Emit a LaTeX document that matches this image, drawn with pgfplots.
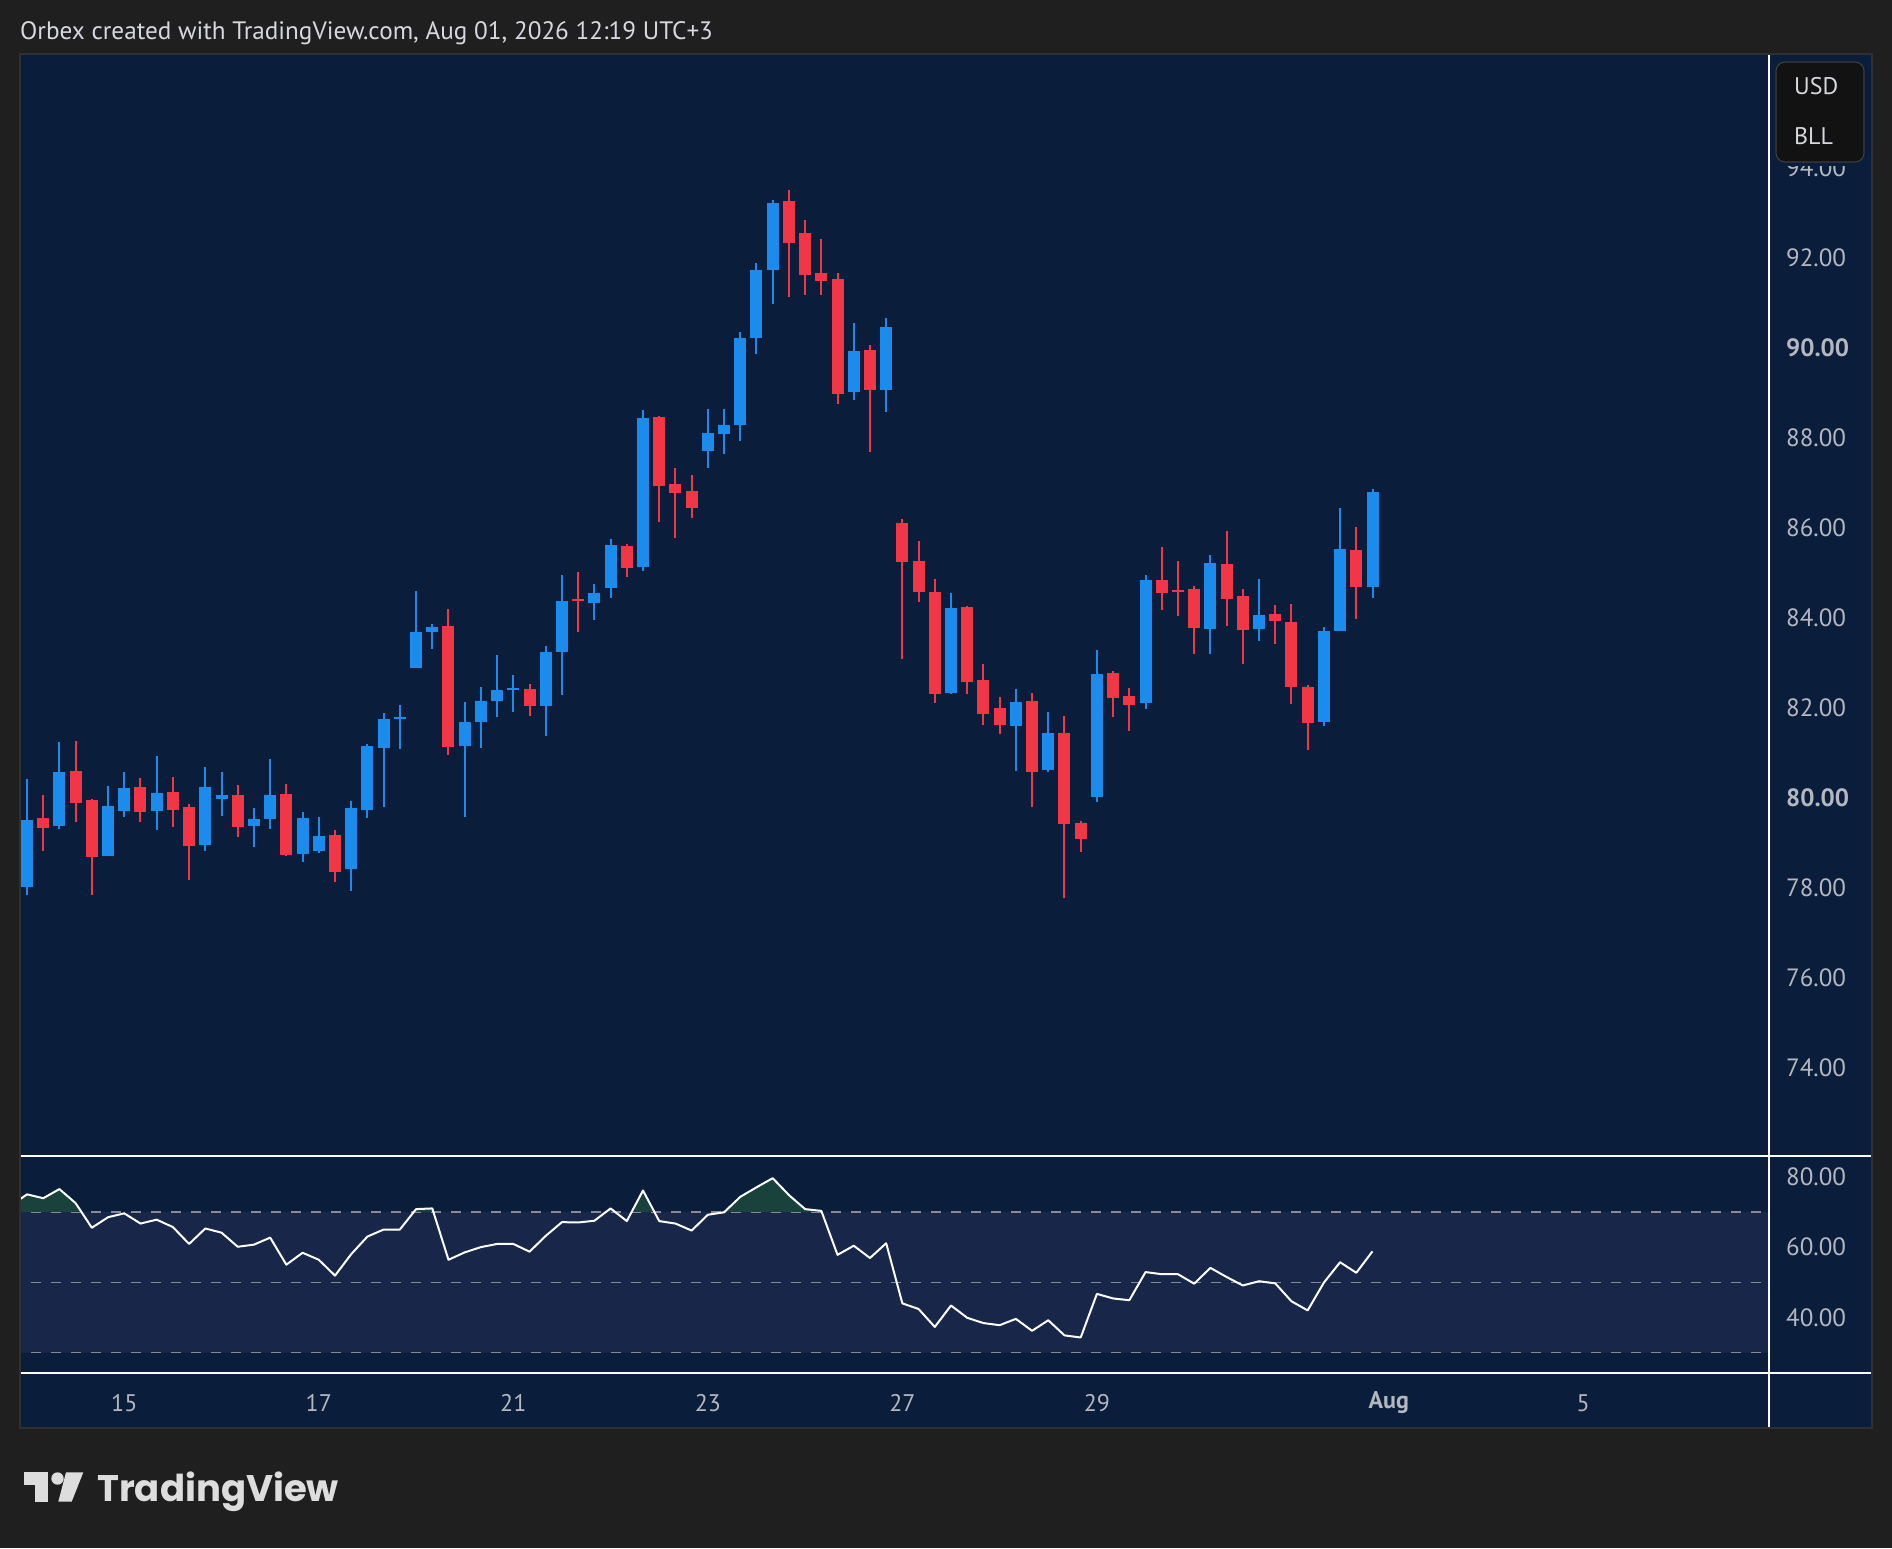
\documentclass[border=0pt]{standalone}
\usepackage{fontspec}
\setmainfont{PT Sans}
\newfontfamily\tvfont{Poppins}
\usepackage{pgfplots}
\usepackage{pgfplotstable}
\pgfplotsset{compat=1.18}

\definecolor{bgdark}{RGB}{31,31,31}
\definecolor{navy}{RGB}{10,30,59}
\definecolor{band}{RGB}{23,38,73}
\definecolor{upblue}{RGB}{28,140,236}
\definecolor{dnred}{RGB}{242,54,69}
\definecolor{labelgray}{RGB}{180,183,192}
\definecolor{titlegray}{RGB}{214,216,222}
\definecolor{dashgray}{RGB}{135,138,148}
\definecolor{panelborder}{RGB}{48,48,48}
\definecolor{rsigreen}{RGB}{26,66,60}
\definecolor{boxfill}{RGB}{18,18,18}
\definecolor{boxborder}{RGB}{60,60,60}
\definecolor{logogray}{RGB}{221,221,221}

\pgfplotstableread{
i o h l c
0 78.02 80.41 77.83 79.50
2 79.37 81.24 79.30 80.57
5 78.70 80.26 78.70 79.81
6 79.70 80.57 79.57 80.21
8 79.70 80.93 79.28 80.10
11 78.94 80.68 78.81 80.24
12 79.97 80.57 79.59 80.06
14 79.37 79.77 78.90 79.52
15 79.52 80.86 79.30 80.06
17 78.74 79.68 78.57 79.55
18 78.81 79.57 78.77 79.15
20 78.41 79.92 77.92 79.77
21 79.72 81.19 79.55 81.15
22 81.10 81.88 79.79 81.75
23 81.75 82.06 81.08 81.79
24 82.88 84.60 82.88 83.68
25 83.68 83.86 83.30 83.79
27 81.15 82.13 79.57 81.68
28 81.68 82.46 81.10 82.15
29 82.15 83.17 81.79 82.39
30 82.39 82.73 81.90 82.44
32 82.04 83.37 81.37 83.24
33 83.24 84.95 82.28 84.37
35 84.33 84.75 83.95 84.55
36 84.66 85.75 84.44 85.62
38 85.13 88.62 85.04 88.44
42 87.71 88.65 87.33 88.11
43 88.09 88.65 87.64 88.29
44 88.29 90.36 87.93 90.22
45 90.22 91.89 89.87 91.74
46 91.74 93.29 90.98 93.23
51 89.02 90.56 88.84 89.93
53 89.07 90.67 88.58 90.47
57 82.32 84.55 82.30 84.22
61 81.59 82.42 80.59 82.13
63 80.61 81.90 80.57 81.44
66 80.01 83.28 79.90 82.75
69 82.10 84.95 81.97 84.84
73 83.75 85.40 83.19 85.22
76 83.75 84.86 83.48 84.06
80 81.68 83.79 81.59 83.71
81 83.71 86.44 83.71 85.53
83 84.68 86.87 84.44 86.80
}\upcandles

\pgfplotstableread{
i o h l c
1 79.55 80.06 78.82 79.33
3 80.59 81.26 79.46 79.89
4 79.95 79.98 77.83 78.69
7 80.24 80.44 79.46 79.68
9 80.12 80.46 79.35 79.72
10 79.79 79.86 78.17 78.92
13 80.06 80.28 79.12 79.35
16 80.08 80.30 78.70 78.72
19 79.17 79.28 78.12 78.34
26 83.82 84.20 80.95 81.13
31 82.42 82.53 81.82 82.04
34 84.42 85.02 83.68 84.37
37 85.60 85.64 84.91 85.11
39 88.47 88.50 86.13 86.93
40 86.97 87.33 85.77 86.78
41 86.82 87.18 86.22 86.44
47 93.27 93.52 91.14 92.34
48 92.56 92.85 91.18 91.63
49 91.67 92.43 91.18 91.49
50 91.54 91.67 88.75 88.98
52 89.96 90.07 87.69 89.07
54 86.11 86.20 83.08 85.24
55 85.26 85.71 84.35 84.57
56 84.57 84.86 82.10 82.30
58 84.24 84.26 82.30 82.57
59 82.62 82.97 81.61 81.86
60 81.99 82.24 81.41 81.61
62 82.15 82.33 79.79 80.57
64 81.44 81.81 77.77 79.41
65 79.43 79.48 78.79 79.08
67 82.77 82.82 81.79 82.22
68 82.26 82.44 81.48 82.06
70 84.84 85.57 84.17 84.55
71 84.62 85.26 84.04 84.57
72 84.64 84.71 83.19 83.77
74 85.20 85.93 83.82 84.42
75 84.49 84.64 82.97 83.73
77 84.08 84.28 83.42 83.93
78 83.90 84.31 82.08 82.46
79 82.46 82.50 81.06 81.66
82 85.51 86.02 83.97 84.68
}\dncandles

\pgfplotstableread{
i r
-1 71.8
0 75.0
1 73.9
2 76.5
3 72.5
4 65.5
5 68.5
6 69.6
7 66.7
8 67.8
9 65.7
10 60.9
11 65.3
12 64.1
13 60.1
14 60.7
15 62.7
16 55.0
17 58.4
18 56.4
19 51.9
20 58.0
21 63.0
22 65.0
23 65.0
24 70.8
25 71.0
26 56.4
27 58.5
28 60.0
29 60.9
30 60.9
31 58.7
32 63.2
33 67.1
34 67.0
35 67.5
36 71.0
37 67.4
38 76.1
39 67.4
40 66.7
41 64.7
42 69.2
43 69.9
44 74.3
45 77.0
46 79.6
47 74.8
48 70.8
49 70.3
50 57.8
51 60.4
52 56.9
53 61.1
54 44.0
55 42.4
56 37.3
57 43.4
58 39.9
59 38.4
60 37.8
61 39.6
62 36.2
63 39.2
64 34.9
65 34.3
66 46.7
67 45.4
68 44.9
69 52.9
70 52.3
71 52.3
72 49.6
73 54.1
74 51.5
75 49.1
76 50.3
77 49.7
78 44.6
79 42.0
80 49.9
81 55.7
82 52.7
83 58.8
}\rsitable

\begin{document}
\begin{tikzpicture}[x=1pt,y=1pt]
\useasboundingbox (0,0) rectangle (1892,-1548);
\fill[bgdark] (0,0) rectangle (1892,-1548);
\fill[navy] (20,-54) rectangle (1872,-1428);

\node[anchor=base west, inner sep=0pt, text=titlegray, font=\fontsize{25.2}{29}\selectfont] at (20,-39.5) {Orbex created with TradingView.com, Aug 01, 2026 12:19 UTC+3};

% price pane
\begin{axis}[
  at={(20pt,-1156pt)}, anchor=south west,
  scale only axis, width=1749pt, height=1102pt,
  xmin=-0.432, xmax=107.46, ymin=72.03, ymax=96.54,
  axis line style={draw=none}, tick style={draw=none},
  xtick=\empty,
  ytick={74,76,78,80,82,84,86,88,90,92,94},
  yticklabels={74.00,76.00,78.00,\textbf{80.00},82.00,84.00,86.00,88.00,\textbf{90.00},92.00,94.00},
  yticklabel pos=right,
  yticklabel style={anchor=west, xshift=17pt, inner sep=0pt, text=labelgray, font=\fontsize{25}{30}\selectfont},
]
\addplot[draw=none, mark=none, error bars/.cd, y dir=both, y explicit, error mark=none,
  error bar style={draw=upblue, line width=2pt}]
  table[x=i, y expr={(\thisrow{h}+\thisrow{l})/2}, y error expr={(\thisrow{h}-\thisrow{l})/2}] {\upcandles};
\addplot[draw=none, mark=none, error bars/.cd, y dir=both, y explicit, error mark=none,
  error bar style={draw=dnred, line width=2pt}]
  table[x=i, y expr={(\thisrow{h}+\thisrow{l})/2}, y error expr={(\thisrow{h}-\thisrow{l})/2}] {\dncandles};
\addplot[draw=none, mark=none, error bars/.cd, y dir=both, y explicit, error mark=none,
  error bar style={draw=upblue, line width=12pt}]
  table[x=i, y expr={(\thisrow{o}+\thisrow{c})/2}, y error expr={max(abs(\thisrow{c}-\thisrow{o})/2,0.015)}] {\upcandles};
\addplot[draw=none, mark=none, error bars/.cd, y dir=both, y explicit, error mark=none,
  error bar style={draw=dnred, line width=12pt}]
  table[x=i, y expr={(\thisrow{o}+\thisrow{c})/2}, y error expr={max(abs(\thisrow{c}-\thisrow{o})/2,0.015)}] {\dncandles};
\end{axis}

% RSI pane
\begin{axis}[
  at={(20pt,-1373pt)}, anchor=south west,
  scale only axis, width=1749pt, height=217pt,
  xmin=-0.432, xmax=107.46, ymin=24.2, ymax=85.9,
  axis line style={draw=none}, tick style={draw=none},
  ytick={40,60,80}, yticklabels={40.00,60.00,80.00},
  yticklabel pos=right,
  yticklabel style={anchor=west, xshift=17pt, inner sep=0pt, text=labelgray, font=\fontsize{25}{30}\selectfont},
  xtick={6,18,30,42,54,66,84,96},
  xticklabels={15,17,21,23,27,29,\textbf{Aug},5},
  xticklabel style={anchor=center, yshift=-30pt, inner sep=0pt, text=labelgray, font=\fontsize{24}{28}\selectfont},
]
\addplot[fill=band, draw=none] coordinates {(-1,30) (110,30) (110,70) (-1,70) (-1,30)};
\addplot[dashgray, line width=1.5pt, dash pattern=on 10pt off 10pt] coordinates {(-1,70) (110,70)};
\addplot[dashgray, line width=1.5pt, dash pattern=on 10pt off 10pt] coordinates {(-1,50) (110,50)};
\addplot[dashgray, line width=1.5pt, dash pattern=on 10pt off 10pt] coordinates {(-1,30) (110,30)};
\addplot[fill=rsigreen, draw=none] coordinates {(-1,70) (-1,71.8) (0,75.0) (1,73.9) (2,76.5) (3,72.5) (3.357,70)};
\addplot[fill=rsigreen, draw=none] coordinates {(23.862,70) (24,70.8) (25,71.0) (25.068,70)};
\addplot[fill=rsigreen, draw=none] coordinates {(35.714,70) (36,71.0) (36.278,70)};
\addplot[fill=rsigreen, draw=none] coordinates {(37.299,70) (38,76.1) (38.701,70)};
\addplot[fill=rsigreen, draw=none] coordinates {(43.023,70) (44,74.3) (45,77.0) (46,79.6) (47,74.8) (48,70.8) (49,70.3) (49.024,70)};
\addplot[white, line width=2pt, line join=round] table[x=i, y=r] {\rsitable};
\end{axis}

% separators
\draw[white, line width=1.7pt] (1769,-54) -- (1769,-1428);
\draw[white, line width=1.7pt] (20,-1156) -- (1872,-1156);
\draw[white, line width=1.7pt] (20,-1373) -- (1872,-1373);
\draw[panelborder, line width=2pt] (20,-54) rectangle (1872,-1428);

% currency box
\fill[navy] (1771,-150) rectangle (1870,-166);
\draw[boxborder, fill=boxfill, line width=1.2pt, rounded corners=9pt] (1776,-62) rectangle (1864,-162);
\node[anchor=west, inner sep=0pt, text=titlegray, font=\fontsize{24}{28}\selectfont] at (1794,-86.5) {USD};
\node[anchor=west, inner sep=0pt, text=titlegray, font=\fontsize{24}{28}\selectfont] at (1794,-136.5) {BLL};

% TradingView logo
\fill[logogray] (24,-1472.3) rectangle (48.3,-1485);
\fill[logogray] (35,-1472.3) rectangle (48.3,-1501.7);
\fill[logogray] (57.5,-1478.5) circle (6.2);
\fill[logogray] (66,-1472.3) -- (83.3,-1472.3) -- (71.7,-1501.7) -- (58.3,-1501.7) -- cycle;
\node[anchor=base west, inner sep=0pt, text=logogray, font=\tvfont\bfseries\fontsize{37}{42}\selectfont] at (97,-1501.7) {TradingView};
\end{tikzpicture}
\end{document}
